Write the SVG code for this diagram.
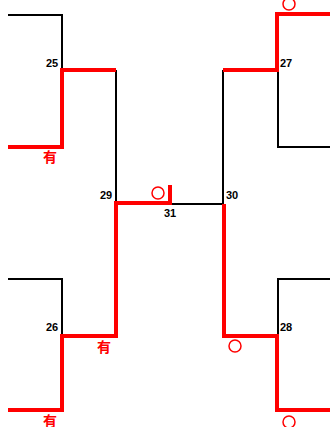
<svg xmlns="http://www.w3.org/2000/svg" width="330" height="427" viewBox="0 0 330 427">
<style>
.k{fill:none;stroke:#000;stroke-width:2}
.r{fill:none;stroke:#f00;stroke-width:4}
.c{fill:none;stroke:#f00;stroke-width:1.5}
.n{font-family:"Liberation Sans",Arial,sans-serif;font-weight:bold;font-size:11px;fill:#000}
.y{font-family:"Noto Sans CJK SC",sans-serif;font-weight:bold;font-size:14px;fill:#f00}
</style>
<rect width="330" height="427" fill="#fff"/>
<g id="connectors">
<path class="k" d="M8,15 H62 V70"/>
<path class="k" d="M116,70 V203"/>
<path class="k" d="M170,204 H224"/>
<path class="k" d="M223,70 V204"/>
<path class="k" d="M278,70 V147 H330"/>
<path class="k" d="M8,279 H62 V336"/>
<path class="k" d="M278,336 V279 H330"/>
<path class="r" d="M8,147 H62 V70 H116"/>
<path class="r" d="M223,70 H277 V14 H330"/>
<path class="r" d="M170,185 V203 H116 V336 H62 V410 H8"/>
<path class="r" d="M224,204 V336 H277 V410 H330"/>
</g>
<g id="n25"><text class="n" x="46" y="67">25</text></g>
<g id="n26"><text class="n" x="46" y="331">26</text></g>
<g id="n27"><text class="n" x="280" y="67">27</text></g>
<g id="n28"><text class="n" x="280" y="331">28</text></g>
<g id="n29"><text class="n" x="100" y="199">29</text></g>
<g id="n30"><text class="n" x="226" y="199">30</text></g>
<g id="n31"><text class="n" x="164" y="217">31</text></g>
<g id="marks">
<text class="y" x="50" y="162" text-anchor="middle">有</text>
<text class="y" x="104" y="352" text-anchor="middle">有</text>
<text class="y" x="50" y="426" text-anchor="middle">有</text>
<circle class="c" cx="158" cy="193" r="6"/>
<circle class="c" cx="289" cy="4" r="6"/>
<circle class="c" cx="235" cy="346" r="6"/>
<circle class="c" cx="289" cy="422" r="6"/>
</g>
</svg>
